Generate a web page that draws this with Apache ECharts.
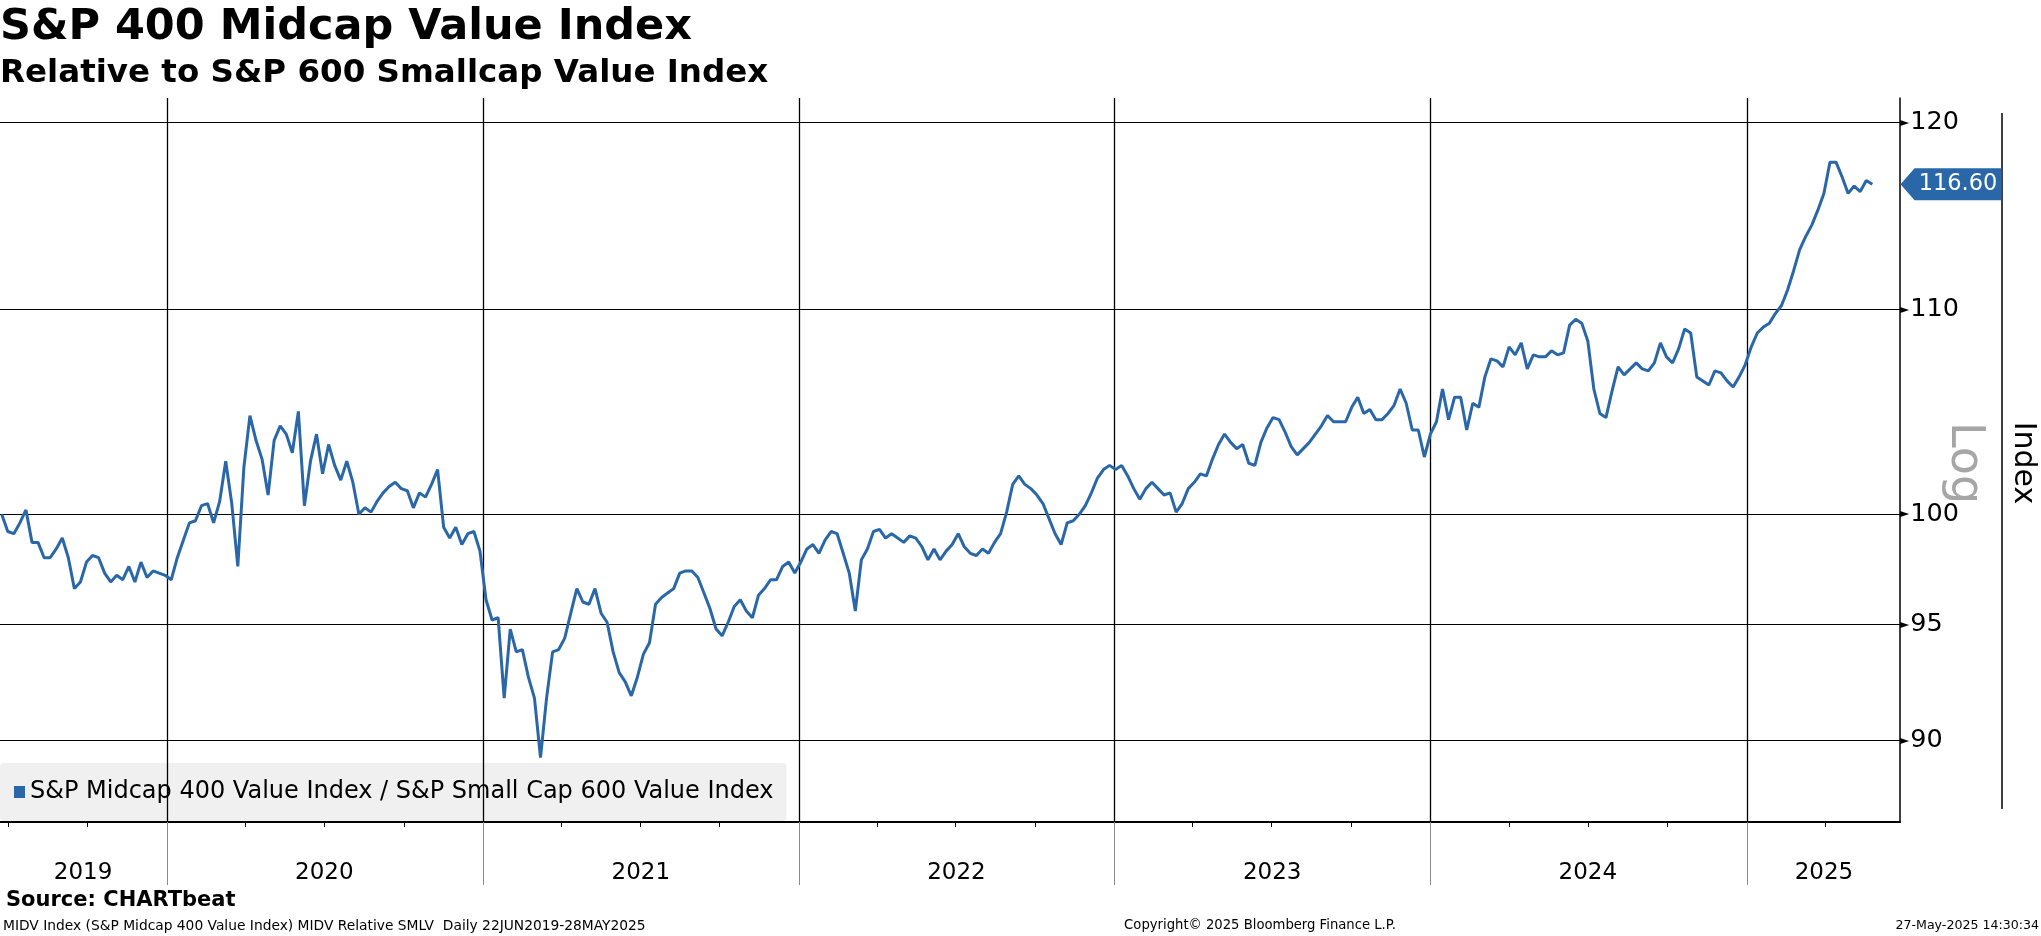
<!DOCTYPE html>
<html><head><meta charset="utf-8">
<script src="https://cdn.jsdelivr.net/npm/echarts@6/dist/echarts.min.js"></script>
<style>html,body{margin:0;padding:0;background:#fff}#c{width:2041px;height:936px}</style>
</head><body><div id="c"></div>
<script>
// ---- data (weekly readings of the daily ratio, first one on startDate) ----
const startDate = '2019-06-24';
const values2019 = [100.0, 99.2, 99.1, 99.6, 100.2, 98.7, 98.7, 98.0, 98.0, 98.4, 98.9, 98.0, 96.6, 96.9, 97.8, 98.1, 98.0, 97.3, 96.9, 97.2, 97.0, 97.6, 96.9, 97.8, 97.1, 97.4, 97.3, 97.2];
const values2020 = [97.0, 98.0, 98.8, 99.6, 99.7, 100.4, 100.5, 99.6, 100.6, 102.5, 100.5, 97.6, 102.2, 104.7, 103.5, 102.6, 100.9, 103.5, 104.2, 103.8, 102.9, 104.9, 100.4, 102.5, 103.8, 101.9, 103.3, 102.3, 101.6, 102.5, 101.5, 100.0, 100.3, 100.1, 100.6, 101.0, 101.3, 101.5, 101.2, 101.1, 100.3, 101.0, 100.8, 101.4, 102.1, 99.4, 98.9, 99.4, 98.6, 99.1, 99.2, 98.3];
const values2021 = [96.1, 95.2, 95.3, 91.8, 94.8, 93.8, 93.9, 92.7, 91.8, 89.3, 91.8, 93.8, 93.9, 94.4, 95.5, 96.6, 96.0, 95.9, 96.6, 95.5, 95.1, 93.8, 92.9, 92.5, 91.9, 92.7, 93.7, 94.2, 95.9, 96.2, 96.4, 96.6, 97.3, 97.4, 97.4, 97.1, 96.4, 95.7, 94.8, 94.5, 95.1, 95.8, 96.1, 95.6, 95.3, 96.3, 96.6, 97.0, 97.0, 97.6, 97.8, 97.3];
const values2022 = [97.8, 98.4, 98.6, 98.2, 98.8, 99.2, 99.1, 98.2, 97.3, 95.6, 97.9, 98.4, 99.2, 99.3, 98.9, 99.1, 98.9, 98.7, 99.0, 98.9, 98.5, 97.9, 98.4, 97.9, 98.3, 98.6, 99.1, 98.5, 98.2, 98.1, 98.4, 98.2, 98.7, 99.1, 100.1, 101.4, 101.8, 101.4, 101.2, 100.9, 100.5, 99.8, 99.1, 98.6, 99.6, 99.7, 100.0, 100.4, 101.0, 101.7, 102.1, 102.3];
const values2023 = [102.1, 102.3, 101.8, 101.2, 100.7, 101.2, 101.5, 101.2, 100.9, 101.0, 100.1, 100.5, 101.2, 101.5, 101.9, 101.8, 102.6, 103.3, 103.8, 103.4, 103.1, 103.3, 102.4, 102.3, 103.4, 104.1, 104.6, 104.5, 103.9, 103.2, 102.8, 103.1, 103.4, 103.8, 104.2, 104.7, 104.4, 104.4, 104.4, 105.1, 105.6, 104.8, 105.0, 104.5, 104.5, 104.8, 105.2, 106.0, 105.3, 104.0, 104.0, 102.7];
const values2024 = [103.8, 104.4, 106.0, 104.5, 105.6, 105.6, 104.0, 105.3, 105.1, 106.6, 107.5, 107.4, 107.1, 108.1, 107.7, 108.3, 107.0, 107.7, 107.6, 107.6, 107.9, 107.7, 107.8, 109.2, 109.5, 109.3, 108.4, 106.0, 104.8, 104.6, 105.9, 107.1, 106.7, 107.0, 107.3, 107.0, 106.9, 107.3, 108.3, 107.6, 107.3, 108.0, 109.0, 108.8, 106.6, 106.4, 106.2, 106.9, 106.8, 106.4, 106.1, 106.6, 107.2];
const values2025 = [108.1, 108.8, 109.1, 109.3, 109.8, 110.2, 111.0, 112.0, 113.1, 113.8, 114.4, 115.2, 116.1, 117.8, 117.8, 117.0, 116.1, 116.5, 116.2, 116.8, 116.60];

const seriesName = 'S&P Midcap 400 Value Index / S&P Small Cap 600 Value Index';
const yTicks = [90, 95, 100, 110, 120];
const yearBreaks = ['2020-01-01', '2021-01-01', '2022-01-01', '2023-01-01', '2024-01-01', '2025-01-01'];
const quarterTicks = ['2019-07-01', '2019-10-01', '2020-04-01', '2020-07-01', '2020-10-01', '2021-04-01', '2021-07-01', '2021-10-01', '2022-04-01', '2022-07-01', '2022-10-01', '2023-04-01', '2023-07-01', '2023-10-01', '2024-04-01', '2024-07-01', '2024-10-01', '2025-04-01'];
const yearLabels = ['2019', '2020', '2021', '2022', '2023', '2024', '2025'];
const yearLabelDates = ['2019-09-26', '2020-07-01', '2021-07-02', '2022-07-02', '2023-07-02', '2024-07-01', '2025-03-31'];
const xMin = '2019-06-22', xMax = '2025-06-27';
const yMin = 86.66, yMax = 121.37;

const title = 'S&P 400 Midcap Value Index';
const subtitle = 'Relative to S&P 600 Smallcap Value Index';
const source = 'Source: CHARTbeat';
const footLeft = 'MIDV Index (S&P Midcap 400 Value Index) MIDV Relative SMLV  Daily 22JUN2019-28MAY2025';
const footMid = 'Copyright\u00A9 2025 Bloomberg Finance L.P.';
const footRight = '27-May-2025 14:30:34';

// ---- build ----
const ts = s => Date.UTC(+s.slice(0, 4), +s.slice(5, 7) - 1, +s.slice(8, 10));
const allValues = [].concat(values2019, values2020, values2021, values2022, values2023, values2024, values2025);
const t0 = ts(startDate);
const seriesData = allValues.map((v, i) => [t0 + i * 7 * 86400000, v]);
const lastValue = allValues[allValues.length - 1];
const yearLabelTs = yearLabelDates.map(ts);

const BLUE = '#2a67a8';
const FONT = '"DejaVu Sans", Verdana, sans-serif';

const chart = echarts.init(document.getElementById('c'), null, {renderer: 'canvas'});
chart.setOption({
  animation: false,
  backgroundColor: '#ffffff',
  grid: {left: 0, right: 141, top: 98, bottom: 114, containLabel: false, outerBoundsMode: 'none'},
  legend: {
    data: [seriesName], left: 0, top: 763, icon: 'rect', itemWidth: 11, itemHeight: 12,
    backgroundColor: '#f0f0f0', borderRadius: 4, padding: [17, 13, 17, 14], selectedMode: false, z: 1,
    textStyle: {fontSize: 24, color: '#000', fontFamily: FONT}
  },
  xAxis: [{
    type: 'value', min: ts(xMin), max: ts(xMax), position: 'bottom', z: 2, scale: true,
    axisLine: {show: true, onZero: false, lineStyle: {color: '#000', width: 2}},
    axisTick: {show: true, customValues: yearBreaks.map(ts), length: 63, lineStyle: {color: '#8a8a8a', width: 1}},
    splitLine: {show: true, lineStyle: {color: '#000', width: 1.3}},
    axisLabel: {
      show: true, customValues: yearLabelTs, margin: 40, color: '#000', fontSize: 23, fontFamily: FONT,
      formatter: v => { const k = yearLabelTs.indexOf(v); return k >= 0 ? yearLabels[k] : String(new Date(v).getUTCFullYear()); }
    }
  }, {
    type: 'value', min: ts(xMin), max: ts(xMax), position: 'bottom', z: 2, scale: true,
    axisLine: {show: false}, axisLabel: {show: false}, splitLine: {show: false},
    axisTick: {show: true, customValues: quarterTicks.map(ts), length: 5, lineStyle: {color: '#000', width: 1}}
  }],
  yAxis: {
    type: 'log', logBase: 10, min: yMin, max: yMax, position: 'right', z: 2,
    axisLine: {show: true, onZero: false, lineStyle: {color: '#000', width: 1.5}},
    axisTick: {show: false}, axisLabel: {show: false}, splitLine: {show: false}
  },
  series: [{
    name: 'gridlines', type: 'line', data: [], z: 2, silent: true,
    markLine: {
      z: 2, silent: true, symbol: ['none', 'none'], animation: false,
      lineStyle: {color: '#000', width: 1.2, type: 'solid'},
      label: {
        show: true, position: 'end', distance: 0,
        formatter: p => '{t|\u25BA}{v|' + p.value + '}',
        rich: {
          t: {fontSize: 12, color: '#000', fontFamily: 'DejaVu Sans', padding: [0, 1, 0, 0]},
          v: {fontSize: 25.5, color: '#000', fontFamily: FONT}
        }
      },
      emphasis: {disabled: true},
      data: yTicks.map(v => ({yAxis: v}))
    }
  }, {
    name: seriesName, type: 'line', data: seriesData, xAxisIndex: 0, yAxisIndex: 0,
    showSymbol: false, symbol: 'none', z: 3,
    lineStyle: {color: BLUE, width: 3}, itemStyle: {color: BLUE},
    markPoint: {
      silent: true, animation: false,
      symbol: 'path://M0,16L14,0L101,0L101,32L14,32Z', symbolSize: [101, 32], symbolKeepAspect: false,
      symbolOffset: [51, 0], itemStyle: {color: BLUE},
      label: {show: true, position: 'inside', color: '#fff', fontSize: 22.5, fontFamily: FONT, offset: [7, 0],
        formatter: () => lastValue.toFixed(2)},
      data: [{coord: [ts(xMax), lastValue], value: lastValue}]
    }
  }],
  graphic: [
    {type: 'text', x: 0, y: 28, style: {text: title, font: 'bold 43px ' + FONT, fill: '#000', verticalAlign: 'middle'}},
    {type: 'text', x: 0, y: 74, style: {text: subtitle, font: 'bold 32.5px ' + FONT, fill: '#000', verticalAlign: 'middle'}},
    {type: 'text', x: 1964, y: 463, rotation: -Math.PI / 2, style: {text: 'Log', font: '46px ' + FONT, fill: '#a6a6a6', align: 'center', verticalAlign: 'middle'}},
    {type: 'text', x: 2023, y: 463, rotation: -Math.PI / 2, style: {text: 'Index', font: '30px ' + FONT, fill: '#000', align: 'center', verticalAlign: 'middle'}},
    {type: 'line', shape: {x1: 2002, y1: 113, x2: 2002, y2: 809}, style: {stroke: '#000', lineWidth: 1.5}},
    {type: 'text', x: 6, y: 901, style: {text: source, font: 'bold 21px ' + FONT, fill: '#000', verticalAlign: 'middle'}},
    {type: 'text', x: 3, y: 926, style: {text: footLeft, font: '13.8px ' + FONT, fill: '#000', verticalAlign: 'middle'}},
    {type: 'text', x: 1260, y: 926, style: {text: footMid, font: '13.2px ' + FONT, fill: '#000', align: 'center', verticalAlign: 'middle'}},
    {type: 'text', x: 2039, y: 926, style: {text: footRight, font: '12.6px ' + FONT, fill: '#000', align: 'right', verticalAlign: 'middle'}}
  ]
});
</script>
</body></html>
